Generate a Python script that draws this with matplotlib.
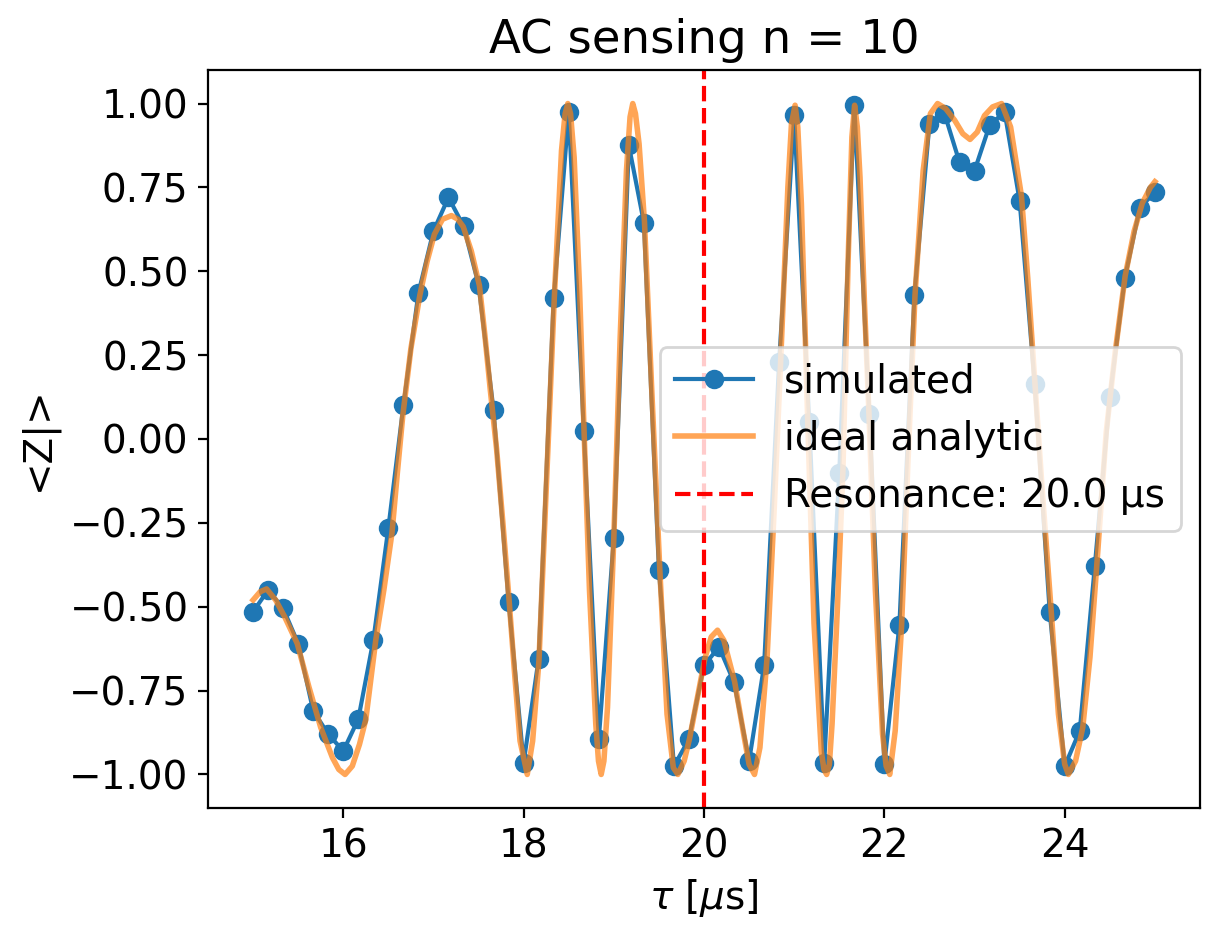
import matplotlib

matplotlib.use("Agg")
import matplotlib.pyplot as plt

plt.rcParams["font.size"] = 14

# simulated <Z> sampled every 1/6 us between 15 and 25 us
tau_sim = [15 + i / 6 for i in range(61)]
z_sim = [
    -0.515, -0.45, -0.505, -0.61, -0.81, -0.88, -0.93, -0.835, -0.60, -0.265,
    0.10, 0.435, 0.62, 0.72, 0.635, 0.46, 0.085, -0.485, -0.965, -0.655,
    0.42, 0.975, 0.025, -0.895, -0.295, 0.875, 0.645, -0.39, -0.975, -0.895,
    -0.675, -0.62, -0.725, -0.96, -0.675, 0.23, 0.965, 0.05, -0.965, -0.10,
    0.995, 0.075, -0.97, -0.555, 0.43, 0.94, 0.97, 0.825, 0.80, 0.935,
    0.975, 0.71, 0.165, -0.515, -0.975, -0.87, -0.38, 0.125, 0.48, 0.69,
    0.735,
]

# ideal analytic curve
tau_ideal = [
    15.00, 15.08, 15.15, 15.25, 15.35, 15.49, 15.62, 15.75, 15.88, 15.95,
    16.02, 16.10, 16.18, 16.25, 16.36, 16.45, 16.54, 16.60, 16.66, 16.75,
    16.85, 16.93, 17.01, 17.10, 17.20, 17.27, 17.33, 17.42, 17.51, 17.57,
    17.63, 17.70, 17.77, 17.84, 17.90, 17.96, 18.04, 18.10, 18.17, 18.25,
    18.34, 18.42, 18.46, 18.49, 18.52, 18.56, 18.62, 18.67, 18.73, 18.80,
    18.83, 18.86, 18.89, 18.93, 19.00, 19.07, 19.14, 19.18, 19.21, 19.24,
    19.28, 19.34, 19.42, 19.51, 19.59, 19.66, 19.71, 19.78, 19.84, 19.92,
    20.01, 20.08, 20.15, 20.22, 20.34, 20.44, 20.50, 20.56, 20.62, 20.70,
    20.78, 20.85, 20.93, 20.97, 21.01, 21.04, 21.08, 21.15, 21.22, 21.30,
    21.33, 21.36, 21.39, 21.42, 21.48, 21.54, 21.60, 21.64, 21.67, 21.70,
    21.73, 21.78, 21.83, 21.90, 21.98, 22.02, 22.06, 22.12, 22.19, 22.26,
    22.34, 22.43, 22.51, 22.59, 22.68, 22.78, 22.87, 22.95, 23.03, 23.11,
    23.20, 23.30, 23.40, 23.52, 23.59, 23.66, 23.75, 23.85, 23.93, 24.00,
    24.04, 24.12, 24.20, 24.28, 24.36, 24.46, 24.56, 24.67, 24.77, 24.86,
    24.95, 25.00,
]
z_ideal = [
    -0.48, -0.455, -0.447, -0.48, -0.53, -0.61, -0.74, -0.86, -0.95, -0.985,
    -1.0, -0.975, -0.91, -0.836, -0.60, -0.45, -0.28, -0.10, 0.07, 0.27,
    0.43, 0.53, 0.61, 0.655, 0.666, 0.655, 0.633, 0.56, 0.457, 0.31,
    0.147, -0.03, -0.25, -0.485, -0.70, -0.90, -1.0, -0.90, -0.66, -0.15,
    0.42, 0.86, 0.97, 1.0, 0.97, 0.84, 0.45, 0.024, -0.45, -0.85,
    -0.96, -1.0, -0.96, -0.80, -0.295, 0.30, 0.80, 0.96, 1.0, 0.97,
    0.88, 0.647, 0.15, -0.39, -0.82, -0.98, -1.0, -0.96, -0.893, -0.78,
    -0.654, -0.59, -0.57, -0.60, -0.724, -0.88, -0.97, -1.0, -0.92, -0.65,
    -0.20, 0.232, 0.75, 0.94, 0.995, 0.93, 0.70, 0.056, -0.55, -0.93,
    -0.985, -1.0, -0.97, -0.85, -0.50, -0.098, 0.55, 0.90, 0.995, 0.93,
    0.78, 0.40, 0.07, -0.45, -0.88, -0.975, -1.0, -0.87, -0.562, -0.08,
    0.43, 0.80, 0.97, 1.0, 0.985, 0.95, 0.91, 0.893, 0.915, 0.964,
    0.99, 1.0, 0.93, 0.725, 0.48, 0.204, -0.15, -0.513, -0.82, -0.97,
    -1.0, -0.96, -0.86, -0.65, -0.36, 0.02, 0.26, 0.486, 0.62, 0.703,
    0.75, 0.767,
]

tau_res = 20.0

fig = plt.figure(figsize=(1219 / 200, 941 / 200), dpi=200)
ax = fig.add_axes([208 / 1219, 1 - 808 / 941, 992 / 1219, 738 / 941])

ax.plot(tau_sim, z_sim, "o-", label="simulated")
ax.plot(tau_ideal, z_ideal, "-", color="C1", alpha=0.7, lw=2, label="ideal analytic")
ax.axvline(tau_res, color="r", ls="--", label=f"Resonance: {tau_res:.1f} µs")

ax.set_xlabel(r"$\tau$ [$\mu$s]")
ax.set_ylabel("<Z|>")
ax.set_title("AC sensing n = 10")
ax.legend(loc="center right")

fig.savefig("out.png", dpi=200)
